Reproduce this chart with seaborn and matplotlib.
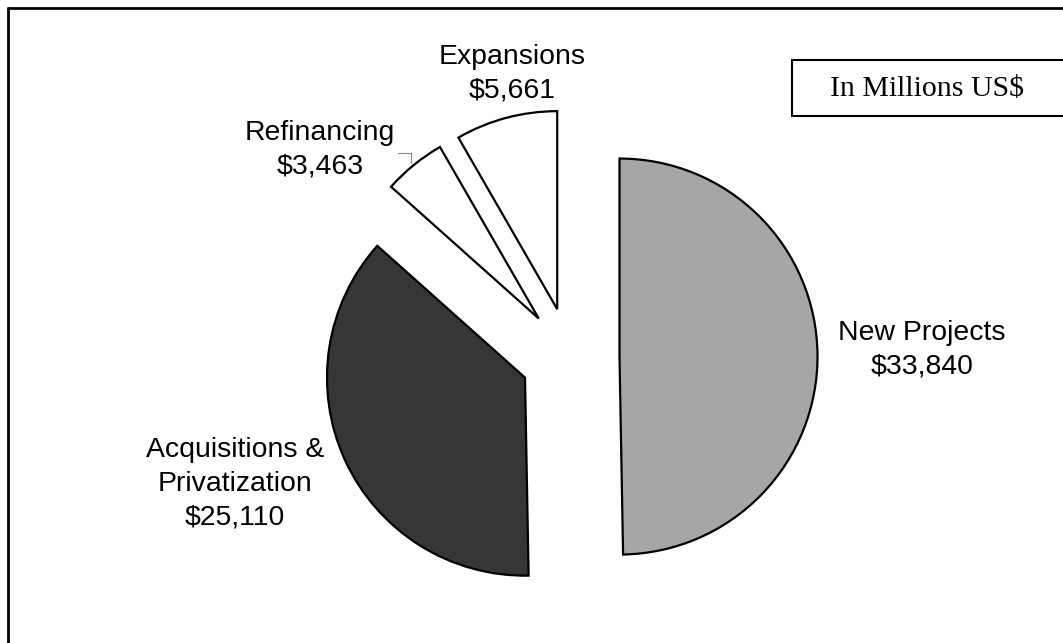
import matplotlib.pyplot as plt
import seaborn as sns
from matplotlib.patches import Rectangle

# Data (millions US$)
categories = ["New Projects", "Acquisitions &\nPrivatization", "Refinancing", "Expansions"]
values = [33840, 25110, 3463, 5661]
colors = ["#a6a6a6", "#363636", "#ffffff", "#ffffff"]
explode_frac = [0.25, 0.25, 0.25, 0.25]

W, H = 1063, 643
R = 198  # pie radius in pixels

sns.set_theme(style="white")
plt.rcParams["font.family"] = ["Liberation Sans", "DejaVu Sans"]

fig = plt.figure(figsize=(W / 100, H / 100), dpi=100)
ax = fig.add_axes([0, 0, 1, 1])

# pie explode is in data units, so scale by radius
ax.pie(values, colors=colors, explode=[e * R for e in explode_frac],
       startangle=90, counterclock=False,
       radius=R, center=(570, H - 357),
       wedgeprops=dict(edgecolor="black", linewidth=1.6))

ax.set_xlim(0, W)
ax.set_ylim(0, H)
ax.set_aspect("equal")
ax.axis("off")

# labels
label_pos = [(922, 350), (235, 484), (320, 150), (512, 74)]
for name, val, (x, y) in zip(categories, values, label_pos):
    ax.text(x, H - y, f"{name}\n${val:,}", ha="center", va="center",
            fontsize=20.4, linespacing=1.38, color="black")

# small leader line for Refinancing
ax.plot([398, 411, 411], [H - 153, H - 153, H - 163], color="#888888", lw=0.8)

# units box
ax.add_patch(Rectangle((792, H - 116), 300, 56, facecolor="white",
                       edgecolor="black", linewidth=1.5))
ax.text(927, H - 89, "In Millions US$", ha="center", va="center",
        fontsize=21.5, family="Liberation Serif", color="black")

# outer frame (top and left edges visible)
ax.plot([8, 8], [-10, H - 8], color="black", lw=2)
ax.plot([8, W + 10], [H - 8, H - 8], color="black", lw=2)

plt.savefig("out.png", dpi=100)
